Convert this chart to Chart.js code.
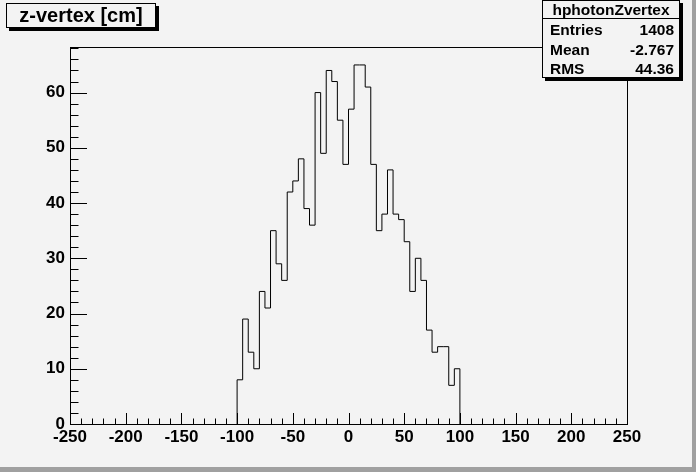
<!DOCTYPE html>
<html>
<head>
<meta charset="utf-8">
<script src="https://cdn.jsdelivr.net/npm/chart.js@4.4.0/dist/chart.umd.min.js"></script>
<style>
  body { margin: 0; background: #f3f3f3; }
  #wrap { position: relative; width: 696px; height: 472px; background: #f3f3f3; overflow: hidden; }
  #wrap:after { content: ''; position: absolute; right: 0; top: 0; width: 4px; height: 472px; background: #a0a0a0; }
  #wrap:before { content: ''; position: absolute; left: 0; bottom: 0; width: 696px; height: 5px; background: #a0a0a0; z-index: 1; }
  canvas { position: absolute; left: 0; top: 0; }
  .box { position: absolute; background: #f3f3f3; border: 1px solid #000; box-shadow: 3px 3px 0 #000;
         font-family: "Liberation Sans", Arial, sans-serif; font-weight: bold; color: #000; box-sizing: border-box; }
  #title { left: 6px; top: 3px; width: 150px; height: 25px; font-size: 20px; line-height: 23px; text-align: center; }
  #stats { left: 542px; top: 0px; width: 138px; height: 78px; font-size: 15.5px; }
  #stats .head { position: absolute; left: 0; top: 0; width: 100%; height: 17px; line-height: 17px; text-align: center; border-bottom: 1px solid #000; }
  #stats .row { position: absolute; left: 7px; right: 5px; height: 20px; line-height: 20px; }
  #stats .row span:last-child { float: right; }
</style>
</head>
<body>
<div id="wrap">
  <canvas id="histo" width="696" height="472"></canvas>
  <div id="title" class="box"></div>
  <div id="stats" class="box"></div>
</div>
<script>
// histogram: 40 bins of 5 cm from -100 to 100 (everything else is empty)
const histName = 'hphotonZvertex';
const histTitle = 'z-vertex [cm]';
const binLow = -100;
const binWidth = 5;
const counts = [8, 19, 13, 10, 24, 21, 35, 29, 26, 42, 44, 48, 39, 36, 60, 49, 64, 62, 55, 47,
                57, 65, 65, 61, 47, 35, 38, 46, 38, 37, 33, 24, 30, 26, 17, 13, 14, 14, 7, 10];
const xTicks = [-250, -200, -150, -100, -50, 0, 50, 100, 150, 200, 250];
const yTicks = [0, 10, 20, 30, 40, 50, 60];
const statNames = ['Entries', 'Mean', 'RMS'];
const statValues = ['1408', '-2.767', '44.36'];

const yMax = Math.max(...counts) * 1.05;

// step outline points at the bin edges (vertical first, then across)
const points = [{ x: binLow, y: 0 }];
counts.forEach((c, i) => points.push({ x: binLow + (i + 1) * binWidth, y: c }));
points.push({ x: binLow + counts.length * binWidth, y: 0 });

document.getElementById('title').textContent = histTitle;
const stats = document.getElementById('stats');
stats.innerHTML = '<div class="head">' + histName + '</div>';
const rowTops = [19, 39, 58];
statNames.forEach((n, i) => {
  const row = document.createElement('div');
  row.className = 'row';
  row.style.top = rowTops[i] + 'px';
  row.innerHTML = '<span>' + n + '</span><span>' + statValues[i] + '</span>';
  stats.appendChild(row);
});

// ROOT style frame with ticks pointing inwards
const frameTicks = {
  id: 'frameTicks',
  afterDatasetsDraw(chart) {
    const { ctx, chartArea: a, scales: { x, y } } = chart;
    ctx.save();
    ctx.strokeStyle = '#000';
    ctx.lineWidth = 1;
    ctx.beginPath();
    for (let v = -250; v <= 250; v += 10) {
      const px = Math.round(x.getPixelForValue(v)) + 0.5;
      const len = v % 50 === 0 ? 11 : 5.5;
      ctx.moveTo(px, a.bottom);
      ctx.lineTo(px, a.bottom - len);
    }
    for (let v = 0; v <= yMax; v += 2) {
      const py = Math.round(y.getPixelForValue(v)) + 0.5;
      const len = v % 10 === 0 ? 17 : 8.5;
      ctx.moveTo(a.left, py);
      ctx.lineTo(a.left + len, py);
    }
    ctx.stroke();
    ctx.strokeRect(Math.round(a.left) + 0.5, Math.round(a.top) + 0.5,
                   Math.round(a.right - a.left), Math.round(a.bottom - a.top));
    ctx.restore();
  }
};

const tickFont = { family: '"Liberation Sans", Arial, sans-serif', size: 17, weight: 'bold' };

new Chart(document.getElementById('histo'), {
  type: 'line',
  data: {
    datasets: [{
      data: points,
      stepped: 'after',
      borderColor: '#000',
      borderWidth: 1,
      pointRadius: 0,
      fill: false
    }]
  },
  options: {
    responsive: false,
    animation: false,
    devicePixelRatio: 1,
    layout: { padding: { left: 0, right: 69, top: 47, bottom: 0 } },
    plugins: { legend: { display: false }, tooltip: { enabled: false } },
    scales: {
      x: {
        type: 'linear',
        min: -250,
        max: 250,
        afterBuildTicks: s => { s.ticks = xTicks.map(v => ({ value: v })); },
        afterFit: s => { s.height = 48; },
        grid: { display: false, drawTicks: false },
        border: { display: false },
        ticks: { color: '#000', font: tickFont, padding: 3, maxRotation: 0, autoSkip: false }
      },
      y: {
        type: 'linear',
        min: 0,
        max: yMax,
        afterBuildTicks: s => { s.ticks = yTicks.map(v => ({ value: v })); },
        afterFit: s => { s.width = 70; },
        grid: { display: false, drawTicks: false },
        border: { display: false },
        ticks: { color: '#000', font: tickFont, padding: 5 }
      }
    }
  },
  plugins: [frameTicks]
});
</script>
</body>
</html>
